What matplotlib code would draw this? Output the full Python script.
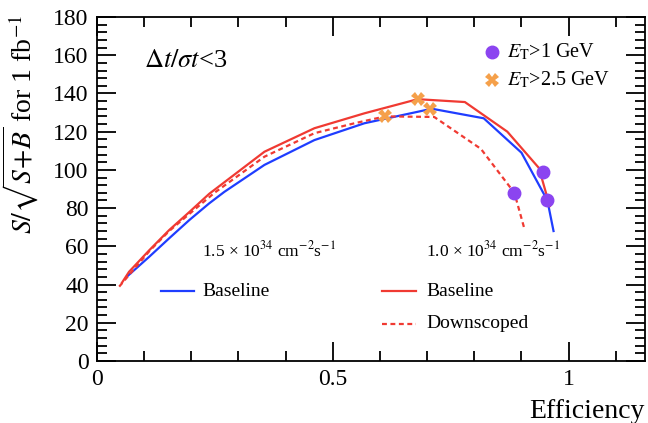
import matplotlib
matplotlib.use("Agg")
import matplotlib.pyplot as plt
from matplotlib.ticker import MultipleLocator
from matplotlib.lines import Line2D

plt.rcParams['font.family'] = ['Liberation Serif', 'DejaVu Serif']
plt.rcParams['mathtext.fontset'] = 'stix'

# 1.5e34 baseline (blue)
blue_x = [0.065, 0.111, 0.153, 0.196, 0.238, 0.27, 0.355, 0.461, 0.567, 0.71, 0.82, 0.90, 0.955, 0.968]
blue_y = [44.5, 54.6, 64.2, 73.8, 82.5, 88.5, 102.6, 115.6, 124.4, 132, 127, 109, 84, 68]
# 1.0e34 baseline (red solid)
red_x = [0.053, 0.068, 0.111, 0.153, 0.196, 0.238, 0.355, 0.461, 0.567, 0.68, 0.78, 0.87, 0.937, 0.96]
red_y = [41, 46.7, 58, 68.5, 78, 87.5, 109.5, 121.8, 129.6, 137, 135.5, 120, 101, 81]
# 1.0e34 downscoped (red dashed)
down_x = [0.047, 0.111, 0.153, 0.196, 0.249, 0.355, 0.461, 0.546, 0.611, 0.715, 0.814, 0.885, 0.907]
down_y = [38.9, 57.5, 68, 77, 88, 106.9, 119.2, 124.4, 128, 127.7, 111, 88, 68.5]

# working points
et1_x = [0.885, 0.945, 0.955]
et1_y = [88, 99, 84]
et25_x = [0.611, 0.680, 0.707]
et25_y = [128, 137, 132]

BLUE = '#1f3dff'
RED = '#f03a32'
PURPLE = '#8b44f0'
ORANGE = '#f5a04a'
DASH = (0, (2.2, 1.6))

fig = plt.figure(figsize=(6.48, 4.23), dpi=100)
ax = fig.add_axes([0.1497, 0.1466, 0.8457, 0.8132])

ax.plot(blue_x, blue_y, color=BLUE, lw=1.6)
ax.plot(red_x, red_y, color=RED, lw=1.6)
ax.plot(down_x, down_y, color=RED, lw=1.6, ls=DASH)
ax.plot(et1_x, et1_y, 'o', color=PURPLE, ms=9, ls='none', zorder=5)
ax.plot(et25_x, et25_y, 'X', color=ORANGE, ms=10, mew=0, ls='none', zorder=5)

ax.set_xlim(0, 1.162)
ax.set_ylim(0, 180)
ax.xaxis.set_major_locator(MultipleLocator(0.5))
ax.xaxis.set_minor_locator(MultipleLocator(0.1))
ax.yaxis.set_major_locator(MultipleLocator(20))
ax.yaxis.set_minor_locator(MultipleLocator(4))
ax.set_xticks([0, 0.5, 1])
ax.set_xticklabels(['0', '0.5', '1'])
ax.tick_params(which='both', direction='in', top=True, right=True, width=1.3, labelsize=17)
ax.tick_params(which='major', length=14, pad=6)
ax.tick_params(which='minor', length=7)
for s in ax.spines.values():
    s.set_linewidth(1.3)

ax.set_xlabel('Efficiency', fontsize=20)
ax.xaxis.set_label_coords(1.0, -0.11)
ax.xaxis.label.set_horizontalalignment('right')
ax.set_ylabel(r'$S/\sqrt{S\!+\!B}$ for 1 fb$^{-1}$', fontsize=20)
ax.yaxis.set_label_coords(-0.103, 1.005)
ax.yaxis.label.set_verticalalignment('bottom')
ax.yaxis.label.set_horizontalalignment('right')

ax.text(0.10, 157, r'$\Delta t/\sigma t$<3', fontsize=19, va='center', ha='left')

# marker legend
ax.plot([0.838], [161.5], 'o', color=PURPLE, ms=9)
ax.text(0.87, 161.5, r'$E_{\mathrm{T}}$>1 GeV', fontsize=14.5, va='center')
ax.plot([0.838], [147], 'X', color=ORANGE, ms=10, mew=0)
ax.text(0.87, 147, r'$E_{\mathrm{T}}$>2.5 GeV', fontsize=14.5, va='center')

# luminosity legends
ax.text(0.223, 58, r'1.5 × 10$^{34}$ cm$^{-2}$s$^{-1}$', fontsize=12.5, va='center')
ax.add_line(Line2D([0.135, 0.205], [36.5, 36.5], color=BLUE, lw=1.6))
ax.text(0.223, 36.5, 'Baseline', fontsize=14, va='center')

ax.text(0.698, 58, r'1.0 × 10$^{34}$ cm$^{-2}$s$^{-1}$', fontsize=12.5, va='center')
ax.add_line(Line2D([0.605, 0.677], [36.5, 36.5], color=RED, lw=1.6))
ax.text(0.698, 36.5, 'Baseline', fontsize=14, va='center')
ax.add_line(Line2D([0.605, 0.677], [19.5, 19.5], color=RED, lw=1.6, ls=DASH))
ax.text(0.698, 19.5, 'Downscoped', fontsize=14, va='center')

fig.savefig('out.png', dpi=100)
